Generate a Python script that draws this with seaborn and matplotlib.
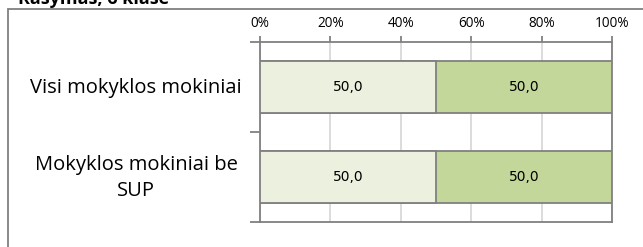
import matplotlib
matplotlib.use("Agg")
import matplotlib.pyplot as plt
import seaborn as sns
import pandas as pd
import numpy as np
from matplotlib.patches import Rectangle

categories = ["Visi mokyklos mokiniai", "Mokyklos mokiniai be\nSUP"]
series_a = [50.0, 50.0]
series_b = [50.0, 50.0]
tick_values = [0, 20, 40, 60, 80, 100]
tick_labels = ["0%", "20%", "40%", "60%", "80%", "100%"]
title = "Rašymas, 6 klasė"

sns.set_theme(style="white")
plt.rcParams['font.family'] = ['Open Sans', 'DejaVu Sans']
plt.rcParams['text.color'] = 'black'
plt.rcParams['xtick.color'] = 'black'
plt.rcParams['ytick.color'] = 'black'

df = pd.DataFrame({"cat": categories, "a": series_a, "b": series_b})
df["total"] = df["a"] + df["b"]

W, H = 643, 247
fig = plt.figure(figsize=(W / 100, H / 100), dpi=100)
fig.patch.set_facecolor("white")

# outer frame
fig.patches.append(Rectangle((8 / W, -0.2), 1.2, 1 - 9.5 / H + 0.2, transform=fig.transFigure,
                             fill=False, edgecolor="#808080", linewidth=1.3))
fig.text(18 / W, 1 - 4 / H, title, fontsize=13, fontweight="bold", ha="left",
         va="baseline", color="black")

ax = fig.add_axes([260 / W, 1 - 222 / H, (612 - 260) / W, (222 - 42) / H])
edge = "#808080"
sns.barplot(data=df, x="total", y="cat", color="#C4D79B", edgecolor=edge, linewidth=1.3,
            width=0.58, ax=ax, zorder=3, saturation=1)
sns.barplot(data=df, x="a", y="cat", color="#EBF1DE", edgecolor=edge, linewidth=1.3,
            width=0.58, ax=ax, zorder=3, saturation=1)

for i in range(len(categories)):
    ax.text(series_a[i] / 2, i, f"{series_a[i]:.1f}".replace(".", ","), ha="center",
            va="center", fontsize=10, zorder=5, family="DejaVu Sans")
    ax.text(series_a[i] + series_b[i] / 2, i, f"{series_b[i]:.1f}".replace(".", ","),
            ha="center", va="center", fontsize=10, zorder=5, family="DejaVu Sans")

ax.set_xlim(0, 100)
ax.set_ylim(1.5, -0.5)
ax.set_xticks(tick_values)
ax.set_xticklabels(tick_labels, fontsize=9.8)
ax.xaxis.tick_top()
ax.tick_params(axis="x", which="both", top=True, bottom=False, direction="out",
               length=4, width=1.3, color=edge, pad=4, labelcolor="black")
ax.set_yticks([-0.5, 0.5, 1.5])
ax.set_yticklabels([])
ax.tick_params(axis="y", left=True, direction="out", length=7, width=1.3, color=edge)
ax.set_xlabel("")
ax.set_ylabel("")
ax.xaxis.grid(True, color="#D9D9D9", linewidth=1.3, zorder=0)
ax.set_axisbelow(True)
for s in ["top", "bottom", "left", "right"]:
    ax.spines[s].set_visible(True)
    ax.spines[s].set_color(edge)
    ax.spines[s].set_linewidth(1.3)

# category labels
label_x = 136 / W
for i, c in enumerate(categories):
    ycen = 1 - (88 + 90 * i) / H
    fig.text(label_x, ycen, c, ha="center", va="center", multialignment="center",
             fontsize=14.5, linespacing=1.4, color="black")

fig.savefig("out.png", dpi=100, facecolor="white")
